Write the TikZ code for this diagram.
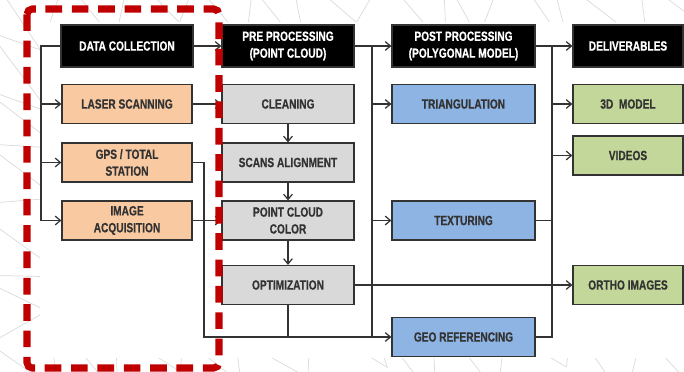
\documentclass[tikz,border=0pt]{standalone}
\usepackage{fontspec}
\setmainfont{Liberation Sans}[FakeStretch=0.76, BoldFeatures={FakeBold=0.6}]
\definecolor{FlowBlack}{HTML}{000000}
\definecolor{FlowLine}{HTML}{333333}
\definecolor{FlowOrange}{HTML}{F9C9A1}
\definecolor{FlowGray}{HTML}{D9D9D9}
\definecolor{FlowBlue}{HTML}{8EB4E3}
\definecolor{FlowGreen}{HTML}{C4D79B}
\definecolor{FlowRed}{HTML}{C00000}
\definecolor{FlowMesh}{HTML}{DADADA}
\usetikzlibrary{arrows.meta, positioning, calc}
\tikzset{
    % boxes
    stage/.style={
        rectangle,
        draw=FlowLine,
        line width=0.7pt,
        minimum height=0.78cm,
        align=center,
        inner sep=1pt,
        text=FlowLine,
        font=\fontsize{7.6}{9.6}\selectfont\bfseries
    },
    stage black/.style={
        stage,
        fill=FlowBlack,
        text=white,
        minimum height=0.84cm
    },
    stage orange/.style={
        stage,
        fill=FlowOrange,
        minimum width=2.6cm
    },
    stage gray/.style={
        stage,
        fill=FlowGray,
        minimum width=2.64cm
    },
    stage blue/.style={
        stage,
        fill=FlowBlue,
        minimum width=2.86cm
    },
    stage green/.style={
        stage,
        fill=FlowGreen,
        minimum width=2.2cm
    },
    link style/.style={
        line width=0.7pt,
        FlowLine
    },
    arrow style/.style={
        link style,
        -{Straight Barb[length=3pt,width=5pt]}
    }
}

\begin{document}
\begin{tikzpicture}[x=0.02cm, y=-0.02cm]
    \useasboundingbox (0,0) rectangle (684,372);

    % background mesh
    \pgfmathsetseed{11}
    \foreach \i in {0,...,11} {
        \foreach \j in {0,...,7} {
            \pgfmathsetmacro{\px}{\i*65-20+rand*22}
            \pgfmathsetmacro{\py}{\j*58-20+rand*20}
            \coordinate (mesh-\i-\j) at (\px,\py);
        }
    }
    \foreach \i [evaluate=\i as \k using int(\i+1)] in {0,...,10} {
        \foreach \j [evaluate=\j as \l using int(\j+1)] in {0,...,6} {
            \draw[FlowMesh, line width=0.4pt] (mesh-\i-\j) -- (mesh-\k-\j);
            \draw[FlowMesh, line width=0.4pt] (mesh-\i-\j) -- (mesh-\i-\l);
            \draw[FlowMesh, line width=0.4pt] (mesh-\i-\j) -- (mesh-\k-\l);
        }
    }
    \fill[white] (40,22) rectangle (684,358);

    % columns
    \node[stage black, minimum width=2.64cm] (collect) at (127,46) {DATA COLLECTION};
    \node[stage orange] (laser) at (127,104) {LASER SCANNING};
    \node[stage orange] (gps) at (127,162.5) {GPS / TOTAL\\STATION};
    \node[stage orange] (image) at (127,220.5) {IMAGE\\ACQUISITION};

    \node[stage black, minimum width=2.64cm] (pre) at (288,46) {PRE PROCESSING\\(POINT CLOUD)};
    \node[stage gray] (clean) at (288,104) {CLEANING};
    \node[stage gray] (align) at (288,162.5) {SCANS ALIGNMENT};
    \node[stage gray] (color) at (288,220.5) {POINT CLOUD\\COLOR};
    \node[stage gray] (optim) at (288,285) {OPTIMIZATION};

    \node[stage black, minimum width=2.86cm] (post) at (463.5,46) {POST PROCESSING\\(POLYGONAL MODEL)};
    \node[stage blue] (triang) at (463.5,104) {TRIANGULATION};
    \node[stage blue] (texture) at (463.5,220.5) {TEXTURING};
    \node[stage blue] (georef) at (463.5,337) {GEO REFERENCING};

    \node[stage black, minimum width=2.2cm] (deliver) at (628,46) {DELIVERABLES};
    \node[stage green] (model) at (628,104) {3D~~MODEL};
    \node[stage green] (videos) at (628,155.5) {VIDEOS};
    \node[stage green] (ortho) at (628,285) {ORTHO IMAGES};

    % buses
    \coordinate (bus1 top) at (41,46);
    \coordinate (bus1 bot) at (41,220.5);
    \coordinate (bus2 top) at (372,46);
    \coordinate (bus2 bot) at (372,337);
    \coordinate (bus3 top) at (552,46);
    \coordinate (bus3 bot) at (552,337);
    \coordinate (gps drop) at (204,337);

    % data collection
    \draw[link style] (collect.west) -- (bus1 top) -- (bus1 bot);
    \draw[arrow style] (bus1 top |- laser) -- (laser.west);
    \draw[arrow style] (bus1 top |- gps) -- (gps.west);
    \draw[arrow style] (bus1 bot) -- (image.west);
    \draw[arrow style] (collect) -- (pre);
    \draw[arrow style] (laser) -- (clean);
    \draw[arrow style] (image) -- (color);
    \draw[arrow style] (gps.east) -| (gps drop) -- (georef.west);

    % pre processing
    \draw[arrow style] (clean) -- (align);
    \draw[arrow style] (align) -- (color);
    \draw[arrow style] (color) -- (optim);
    \draw[link style] (optim.south) -- (optim.south |- georef);
    \draw[arrow style] (optim) -- (ortho);
    \draw[arrow style] (pre) -- (post);
    \draw[link style] (bus2 top) -- (bus2 bot);
    \draw[arrow style] (bus2 top |- triang) -- (triang.west);
    \draw[arrow style] (bus2 top |- texture) -- (texture.west);

    % post processing
    \draw[arrow style] (post) -- (deliver);
    \draw[link style] (bus3 top) -- (bus3 bot) -- (georef.east);
    \draw[link style] (texture.east) -- (bus3 top |- texture);
    \draw[arrow style] (bus3 top |- model) -- (model.west);
    \draw[arrow style] (bus3 top |- videos) -- (videos.west);

    % highlight
    \draw[FlowRed, line width=4pt, dash pattern=on 9.5pt off 5.5pt, rounded corners=3pt] (27,9) rectangle (219,368);
\end{tikzpicture}
\end{document}
